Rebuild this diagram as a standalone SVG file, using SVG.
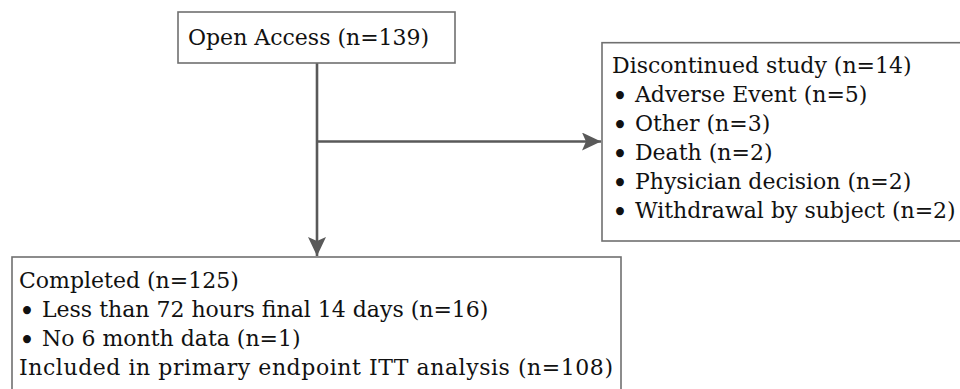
<svg xmlns="http://www.w3.org/2000/svg" width="960" height="389" viewBox="0 0 960 389">
  <style>
    .box { fill: #ffffff; stroke: #707070; stroke-width: 1.6; }
    .txt { font-family: "DejaVu Serif", "Liberation Serif", serif; font-size: 22px; fill: #111111; }
    .b { font-size: 27px; }
    .conn { stroke: #595959; stroke-width: 2.6; fill: none; }
  </style>
  <defs>
    <marker id="arrow" markerUnits="userSpaceOnUse" markerWidth="20" markerHeight="18" viewBox="0 0 20 18" refX="19" refY="9" orient="auto">
      <path d="M0,0 L19,9 L0,18 L4,9 Z" fill="#595959"/>
    </marker>
  </defs>
  <rect width="960" height="389" fill="#ffffff"/>
  <g id="connectors">
    <line class="conn" x1="317" y1="63" x2="317" y2="256" marker-end="url(#arrow)"/>
    <line class="conn" x1="317" y1="141.5" x2="601" y2="141.5" marker-end="url(#arrow)"/>
  </g>
  <g id="node-open-access">
    <rect class="box" x="178" y="12" width="277" height="51"/>
    <text class="txt" x="188" y="44.5">Open Access (n=139)</text>
  </g>
  <g id="node-discontinued">
    <rect class="box" x="602" y="42.7" width="370" height="198.3"/>
    <text class="txt" x="612" y="73.2">Discontinued study (n=14)</text>
    <text class="txt" x="612" y="102.2"><tspan class="b" dy="4">•</tspan><tspan dy="-4"> Adverse Event (n=5)</tspan></text>
    <text class="txt" x="612" y="131.2"><tspan class="b" dy="4">•</tspan><tspan dy="-4"> Other (n=3)</tspan></text>
    <text class="txt" x="612" y="160.2"><tspan class="b" dy="4">•</tspan><tspan dy="-4"> Death (n=2)</tspan></text>
    <text class="txt" x="612" y="189.2"><tspan class="b" dy="4">•</tspan><tspan dy="-4"> Physician decision (n=2)</tspan></text>
    <text class="txt" x="612" y="218.2"><tspan class="b" dy="4">•</tspan><tspan dy="-4"> Withdrawal by subject (n=2)</tspan></text>
  </g>
  <g id="node-completed">
    <rect class="box" x="12" y="257" width="609" height="150"/>
    <text class="txt" x="19" y="287.5">Completed (n=125)</text>
    <text class="txt" x="19" y="316.5"><tspan class="b" dy="4">•</tspan><tspan dy="-4"> Less than 72 hours final 14 days (n=16)</tspan></text>
    <text class="txt" x="19" y="345.5"><tspan class="b" dy="4">•</tspan><tspan dy="-4"> No 6 month data (n=1)</tspan></text>
    <text class="txt" x="19" y="374.5" textLength="594" lengthAdjust="spacing">Included in primary endpoint ITT analysis (n=108)</text>
  </g>
</svg>
